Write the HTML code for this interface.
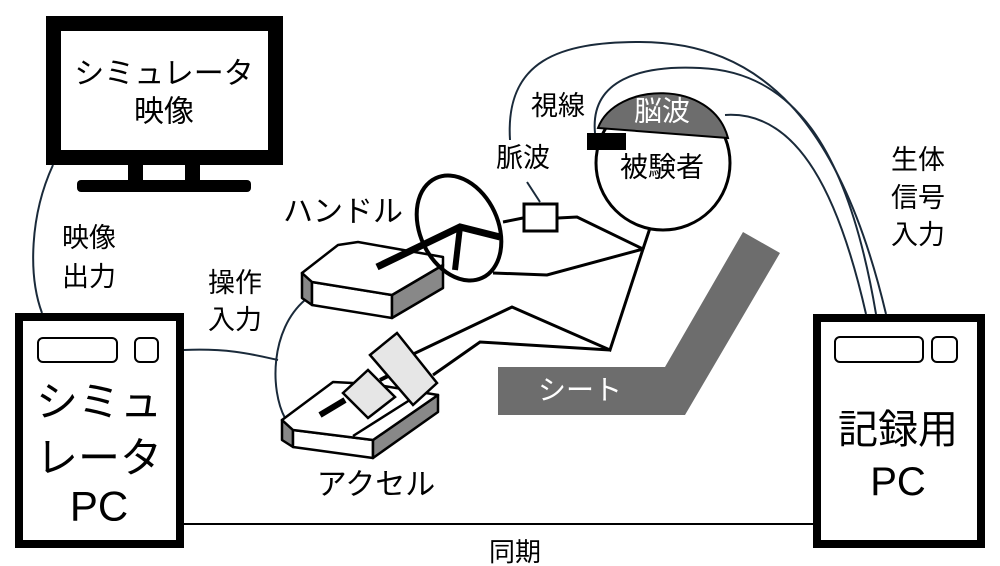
<!DOCTYPE html>
<html><head><meta charset="utf-8"><style>
html,body{margin:0;padding:0;background:#fff;}
svg{display:block;}
text{font-family:"Liberation Sans","Noto Sans CJK JP",sans-serif;text-anchor:middle;dominant-baseline:central;fill:#000;}
</style></head><body>
<svg width="1000" height="566" viewBox="0 0 1000 566" xmlns="http://www.w3.org/2000/svg">
<!-- monitor -->
<rect x="53.5" y="23.5" width="222" height="134" fill="#fff" stroke="#000" stroke-width="15"/>
<rect x="128" y="165" width="15" height="16" fill="#000"/>
<rect x="185" y="165" width="15" height="16" fill="#000"/>
<rect x="77" y="180" width="174" height="12" rx="4" fill="#000"/>
<text x="164" y="74" font-size="30">シミュレータ</text>
<text x="164" y="112" font-size="30">映像</text>
<!-- video out line -->
<path d="M53,165 C30,215 28,275 42,313" fill="none" stroke="#1a2a3a" stroke-width="2"/>
<text x="89" y="238" font-size="27">映像</text>
<text x="89" y="277" font-size="27">出力</text>
<!-- left PC -->
<rect x="19" y="317" width="161" height="227" fill="#fff" stroke="#000" stroke-width="8"/>
<rect x="38" y="338" width="79" height="24" rx="5" fill="#fff" stroke="#000" stroke-width="2"/>
<rect x="135" y="338" width="23" height="24" rx="5" fill="#fff" stroke="#000" stroke-width="2"/>
<text x="99" y="402" font-size="42">シミュ</text>
<text x="99" y="458" font-size="42">レータ</text>
<text x="99" y="506" font-size="42">PC</text>
<!-- sync -->
<line x1="184" y1="524" x2="813" y2="524" stroke="#000" stroke-width="2"/>
<text x="515" y="552" font-size="26">同期</text>
<!-- operation input -->
<path d="M184,350 C230,348 255,355 278,360" fill="none" stroke="#1a2a3a" stroke-width="2"/>
<path d="M305,300 C270,330 270,390 285,418" fill="none" stroke="#1a2a3a" stroke-width="2"/>
<text x="235" y="283" font-size="27">操作</text>
<text x="235" y="320" font-size="27">入力</text>
<!-- right PC -->
<rect x="817" y="318" width="164" height="226" fill="#fff" stroke="#000" stroke-width="8"/>
<rect x="835" y="337" width="88" height="25" rx="5" fill="#fff" stroke="#000" stroke-width="2"/>
<rect x="932" y="337" width="25" height="25" rx="5" fill="#fff" stroke="#000" stroke-width="2"/>
<text x="898" y="430" font-size="40">記録用</text>
<text x="898" y="482" font-size="40">PC</text>
<text x="918" y="160" font-size="27">生体</text>
<text x="918" y="198" font-size="27">信号</text>
<text x="918" y="235" font-size="27">入力</text>
<!-- wires to recorder -->
<g fill="none" stroke="#1a2a3a" stroke-width="2">
<path d="M510,140 C505,60 560,42 640,42 C760,42 840,120 886,314"/>
<path d="M595,133 C590,80 640,65 700,68 C800,72 850,160 876,314"/>
<path d="M725,115 C800,110 840,200 866,314"/>
</g>
<!-- seat -->
<polygon points="498,367 665,367 743,232 780,253 685,415 498,415" fill="#6d6d6d"/>
<text x="580" y="390" font-size="28" fill="#fff" style="fill:#fff">シート</text>
<!-- body lines -->
<g fill="none" stroke="#000" stroke-width="3">
<polyline points="503,222 523,218"/>
<polyline points="558,218 577,217 643,249 610,350 512,307 407,357"/>
<polyline points="493,273 547,275 643,249"/>
<polyline points="433,375 480,342 610,350"/>
<line x1="643" y1="249" x2="650" y2="228"/>
</g>
<line x1="527" y1="182" x2="540" y2="202" stroke="#1a2a3a" stroke-width="2"/>
<rect x="524" y="204" width="33" height="27" fill="#fff" stroke="#000" stroke-width="3"/>
<text x="523" y="158" font-size="27">脈波</text>
<text x="558" y="106" font-size="27">視線</text>
<!-- head -->
<circle cx="663" cy="163" r="67" fill="#fff" stroke="#000" stroke-width="3"/>
<path d="M598,128 C615,82 712,78 728,138 Z" fill="#6d6d6d" stroke="#000" stroke-width="2"/>
<text x="662" y="111" font-size="28" style="fill:#fff">脳波</text>
<rect x="587" y="133" width="39" height="17" fill="#000"/>
<text x="662" y="167" font-size="28">被験者</text>
<!-- handle box -->
<g stroke="#000" stroke-width="2.5" stroke-linejoin="round">
<polygon points="302,273 312,282 312,305 302,298" fill="#888"/>
<polygon points="312,282 392,295 392,318 312,305" fill="#fff"/>
<polygon points="392,295 443,265 443,288 392,318" fill="#888"/>
<polygon points="302,273 338,245 358,242 443,257 443,265 392,295 312,282" fill="#fff"/>
</g>
<!-- steering wheel -->
<ellipse cx="459" cy="228" rx="39" ry="55" transform="rotate(-25 459 228)" fill="none" stroke="#000" stroke-width="4"/>
<polyline points="377,267 460,227 500,237" fill="none" stroke="#000" stroke-width="7"/>
<line x1="460" y1="227" x2="455" y2="270" stroke="#000" stroke-width="6"/>
<text x="343" y="212" font-size="30">ハンドル</text>
<!-- pedal base -->
<g stroke="#000" stroke-width="2.5" stroke-linejoin="round">
<polygon points="282,420 293,430 293,447 282,440" fill="#888"/>
<polygon points="293,430 373,440 373,458 293,447" fill="#fff"/>
<polygon points="373,440 438,395 438,412 373,458" fill="#888"/>
<polygon points="282,420 333,382 372,384 438,395 373,440 293,430" fill="#fff"/>
</g>
<line x1="320" y1="415" x2="345" y2="400" stroke="#000" stroke-width="6"/>
<polygon points="343,393 368,370 395,397 368,418" fill="#e6e6e6" stroke="#000" stroke-width="2.5"/>
<line x1="353" y1="436" x2="413" y2="398" stroke="#000" stroke-width="2.5"/>
<line x1="380" y1="380" x2="400" y2="370" stroke="#000" stroke-width="4"/>
<polygon points="370,355 397,333 437,383 413,405" fill="#e6e6e6" stroke="#000" stroke-width="2.5"/>
<text x="376" y="485" font-size="30">アクセル</text>
</svg>
</body></html>
